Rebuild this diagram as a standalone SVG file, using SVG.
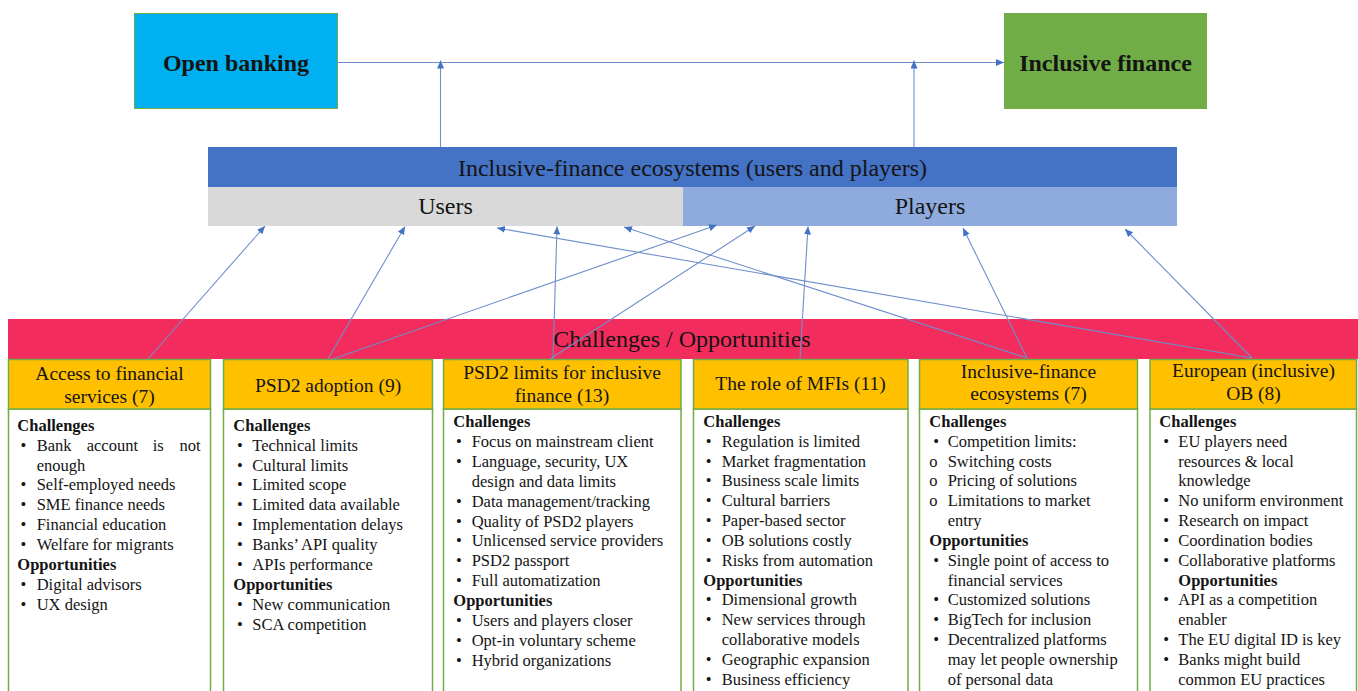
<svg xmlns="http://www.w3.org/2000/svg" width="1358" height="691" viewBox="0 0 1358 691" font-family="'Liberation Serif', 'DejaVu Serif', serif">
<defs>
<style>
text{font-family:'Liberation Serif','DejaVu Serif',serif;fill:#141414}
.big{font-size:24px}
.bold{font-weight:bold}
.hd{font-size:19.5px;text-anchor:middle}
.t{font-size:16.5px}
.hdbox{fill:#FFC000;stroke:#70AD47;stroke-width:1.5}
.cbox{fill:#FFFFFF;stroke:#70AD47;stroke-width:1.5}
.con{fill:none;stroke:#6F8FCB;stroke-width:1.1;marker-end:url(#ah)}
</style>
<marker id="ah" markerUnits="userSpaceOnUse" markerWidth="9" markerHeight="8" refX="8" refY="3.5" orient="auto">
<path d="M0,0 L8,3.5 L0,7 z" fill="#4472C4"/>
</marker>
</defs>
<rect width="1358" height="691" fill="#FFFFFF"/>

<g id="open-banking">
<rect x="134.5" y="13.5" width="203" height="95" fill="#00B0F0" stroke="#70AD47" stroke-width="1"/>
<text x="236" y="71" class="big bold" text-anchor="middle">Open banking</text>
</g>
<g id="inclusive-finance">
<rect x="1004" y="13" width="203" height="96" fill="#70AD47"/>
<text x="1105.5" y="71" class="big bold" text-anchor="middle">Inclusive finance</text>
</g>

<g id="ecosystems">
<rect x="208" y="147" width="969" height="40" fill="#4472C4"/>
<text x="692.5" y="176" class="big" text-anchor="middle">Inclusive-finance ecosystems (users and players)</text>
</g>
<g id="users">
<rect x="208" y="187" width="475" height="39" fill="#D9D9D9"/>
<text x="445.5" y="214" class="big" text-anchor="middle">Users</text>
</g>
<g id="players">
<rect x="683" y="187" width="494" height="39" fill="#8FAADC"/>
<text x="930" y="214" class="big" text-anchor="middle">Players</text>
</g>

<g id="challenges-bar">
<rect x="8" y="319" width="1350" height="40" fill="#F22C5C"/>
<text x="682" y="347" class="big" text-anchor="middle">Challenges / Opportunities</text>
</g>

<g id="col-access">
<rect class="cbox" x="8.5" y="409" width="202" height="290"/>
<rect class="hdbox" x="8.5" y="359.5" width="202" height="49.5"/>
<text class="hd" x="109.5" y="380">Access to financial</text>
<text class="hd" x="109.5" y="403">services (7)</text>
<text class="t bold" x="17.3" y="431">Challenges</text>
<text class="t" x="20.5" y="451">•</text><text class="t" y="451"><tspan x="36.7">Bank</tspan><tspan x="86.7">account</tspan><tspan x="152.7">is</tspan><tspan x="179.5">not</tspan></text>
<text class="t" x="36.7" y="471">enough</text>
<text class="t" x="20.5" y="490">•</text><text class="t" x="36.7" y="490">Self-employed needs</text>
<text class="t" x="20.5" y="510">•</text><text class="t" x="36.7" y="510">SME finance needs</text>
<text class="t" x="20.5" y="530">•</text><text class="t" x="36.7" y="530">Financial education</text>
<text class="t" x="20.5" y="550">•</text><text class="t" x="36.7" y="550">Welfare for migrants</text>
<text class="t bold" x="17.3" y="570">Opportunities</text>
<text class="t" x="20.5" y="589.5">•</text><text class="t" x="36.7" y="589.5">Digital advisors</text>
<text class="t" x="20.5" y="609.5">•</text><text class="t" x="36.7" y="609.5">UX design</text>
</g>

<g id="col-psd2-adoption">
<rect class="cbox" x="223.5" y="409" width="209" height="290"/>
<rect class="hdbox" x="223.5" y="359.5" width="209" height="49.5"/>
<text class="hd" x="328" y="392">PSD2 adoption (9)</text>
<text class="t bold" x="233.3" y="431">Challenges</text>
<text class="t" x="237" y="450.5">•</text><text class="t" x="252.3" y="450.5">Technical limits</text>
<text class="t" x="237" y="470.5">•</text><text class="t" x="252.3" y="470.5">Cultural limits</text>
<text class="t" x="237" y="490">•</text><text class="t" x="252.3" y="490">Limited scope</text>
<text class="t" x="237" y="510">•</text><text class="t" x="252.3" y="510">Limited data available</text>
<text class="t" x="237" y="530">•</text><text class="t" x="252.3" y="530">Implementation delays</text>
<text class="t" x="237" y="550">•</text><text class="t" x="252.3" y="550">Banks’ API quality</text>
<text class="t" x="237" y="570">•</text><text class="t" x="252.3" y="570">APIs performance</text>
<text class="t bold" x="233.3" y="589.5">Opportunities</text>
<text class="t" x="237" y="609.5">•</text><text class="t" x="252.3" y="609.5">New communication</text>
<text class="t" x="237" y="629.5">•</text><text class="t" x="252.3" y="629.5">SCA competition</text>
</g>

<g id="col-psd2-limits">
<rect class="cbox" x="443.5" y="409" width="237.5" height="290"/>
<rect class="hdbox" x="443.5" y="359.5" width="237.5" height="49.5"/>
<text class="hd" x="562" y="379">PSD2 limits for inclusive</text>
<text class="hd" x="562" y="402">finance (13)</text>
<text class="t bold" x="453.3" y="427">Challenges</text>
<text class="t" x="456" y="447">•</text><text class="t" x="471.7" y="447">Focus on mainstream client</text>
<text class="t" x="456" y="467">•</text><text class="t" x="471.7" y="467">Language, security, UX</text>
<text class="t" x="471.7" y="486.5">design and data limits</text>
<text class="t" x="456" y="506.5">•</text><text class="t" x="471.7" y="506.5">Data management/tracking</text>
<text class="t" x="456" y="526.5">•</text><text class="t" x="471.7" y="526.5">Quality of PSD2 players</text>
<text class="t" x="456" y="546">•</text><text class="t" x="471.7" y="546">Unlicensed service providers</text>
<text class="t" x="456" y="566">•</text><text class="t" x="471.7" y="566">PSD2 passport</text>
<text class="t" x="456" y="586">•</text><text class="t" x="471.7" y="586">Full automatization</text>
<text class="t bold" x="453.3" y="605.5">Opportunities</text>
<text class="t" x="456" y="625.5">•</text><text class="t" x="471.7" y="625.5">Users and players closer</text>
<text class="t" x="456" y="645.5">•</text><text class="t" x="471.7" y="645.5">Opt-in voluntary scheme</text>
<text class="t" x="456" y="665.5">•</text><text class="t" x="471.7" y="665.5">Hybrid organizations</text>
</g>

<g id="col-mfis">
<rect class="cbox" x="693.5" y="409" width="214.5" height="290"/>
<rect class="hdbox" x="693.5" y="359.5" width="214.5" height="49.5"/>
<text class="hd" x="800.5" y="390">The role of MFIs (11)</text>
<text class="t bold" x="703.3" y="427">Challenges</text>
<text class="t" x="705.7" y="446.5">•</text><text class="t" x="721.7" y="446.5">Regulation is limited</text>
<text class="t" x="705.7" y="466.5">•</text><text class="t" x="721.7" y="466.5">Market fragmentation</text>
<text class="t" x="705.7" y="486">•</text><text class="t" x="721.7" y="486">Business scale limits</text>
<text class="t" x="705.7" y="506">•</text><text class="t" x="721.7" y="506">Cultural barriers</text>
<text class="t" x="705.7" y="526">•</text><text class="t" x="721.7" y="526">Paper-based sector</text>
<text class="t" x="705.7" y="546">•</text><text class="t" x="721.7" y="546">OB solutions costly</text>
<text class="t" x="705.7" y="565.5">•</text><text class="t" x="721.7" y="565.5">Risks from automation</text>
<text class="t bold" x="703.3" y="585.5">Opportunities</text>
<text class="t" x="705.7" y="605">•</text><text class="t" x="721.7" y="605">Dimensional growth</text>
<text class="t" x="705.7" y="625">•</text><text class="t" x="721.7" y="625">New services through</text>
<text class="t" x="721.7" y="645">collaborative models</text>
<text class="t" x="705.7" y="665">•</text><text class="t" x="721.7" y="665">Geographic expansion</text>
<text class="t" x="705.7" y="684.5">•</text><text class="t" x="721.7" y="684.5">Business efficiency</text>
</g>

<g id="col-ecosystems">
<rect class="cbox" x="919.5" y="409" width="218" height="290"/>
<rect class="hdbox" x="919.5" y="359.5" width="218" height="49.5"/>
<text class="hd" x="1028.5" y="378">Inclusive-finance</text>
<text class="hd" x="1028.5" y="400">ecosystems (7)</text>
<text class="t bold" x="929.3" y="427">Challenges</text>
<text class="t" x="933.3" y="446.5">•</text><text class="t" x="947.7" y="446.5">Competition limits:</text>
<text class="t" x="929.3" y="466.5">o</text><text class="t" x="947.7" y="466.5">Switching costs</text>
<text class="t" x="929.3" y="486">o</text><text class="t" x="947.7" y="486">Pricing of solutions</text>
<text class="t" x="929.3" y="506">o</text><text class="t" x="947.7" y="506">Limitations to market</text>
<text class="t" x="947.7" y="526">entry</text>
<text class="t bold" x="929.3" y="546">Opportunities</text>
<text class="t" x="933.3" y="565.5">•</text><text class="t" x="947.7" y="565.5">Single point of access to</text>
<text class="t" x="947.7" y="585.5">financial services</text>
<text class="t" x="933.3" y="605">•</text><text class="t" x="947.7" y="605">Customized solutions</text>
<text class="t" x="933.3" y="625">•</text><text class="t" x="947.7" y="625">BigTech for inclusion</text>
<text class="t" x="933.3" y="645">•</text><text class="t" x="947.7" y="645">Decentralized platforms</text>
<text class="t" x="947.7" y="665">may let people ownership</text>
<text class="t" x="947.7" y="684.5">of personal data</text>
</g>

<g id="col-european">
<rect class="cbox" x="1150" y="409" width="206.5" height="290"/>
<rect class="hdbox" x="1150" y="359.5" width="206.5" height="49.5"/>
<text class="hd" x="1253.5" y="377">European (inclusive)</text>
<text class="hd" x="1253.5" y="400">OB (8)</text>
<text class="t bold" x="1159.3" y="427">Challenges</text>
<text class="t" x="1163.3" y="446.5">•</text><text class="t" x="1178.3" y="446.5">EU players need</text>
<text class="t" x="1178.3" y="466.5">resources &amp; local</text>
<text class="t" x="1178.3" y="486">knowledge</text>
<text class="t" x="1163.3" y="506">•</text><text class="t" x="1178.3" y="506">No uniform environment</text>
<text class="t" x="1163.3" y="526">•</text><text class="t" x="1178.3" y="526">Research on impact</text>
<text class="t" x="1163.3" y="546">•</text><text class="t" x="1178.3" y="546">Coordination bodies</text>
<text class="t" x="1163.3" y="565.5">•</text><text class="t" x="1178.3" y="565.5">Collaborative platforms</text>
<text class="t bold" x="1178.3" y="585.5">Opportunities</text>
<text class="t" x="1163.3" y="605">•</text><text class="t" x="1178.3" y="605">API as a competition</text>
<text class="t" x="1178.3" y="625">enabler</text>
<text class="t" x="1163.3" y="645">•</text><text class="t" x="1178.3" y="645">The EU digital ID is key</text>
<text class="t" x="1163.3" y="665">•</text><text class="t" x="1178.3" y="665">Banks might build</text>
<text class="t" x="1178.3" y="684.5">common EU practices</text>
</g>

<g id="connectors">
<line class="con" x1="337.5" y1="62.5" x2="1004" y2="62.5"/>
<line class="con" x1="440.5" y1="147" x2="440.5" y2="60.5"/>
<line class="con" x1="914" y1="147" x2="914" y2="60.5"/>
<line class="con" x1="148" y1="359" x2="265" y2="226"/>
<line class="con" x1="328" y1="359" x2="405" y2="226.5"/>
<line class="con" x1="333" y1="359" x2="717" y2="225"/>
<line class="con" x1="553" y1="359" x2="557" y2="226.5"/>
<line class="con" x1="550" y1="359" x2="755" y2="226"/>
<line class="con" x1="800" y1="359" x2="808" y2="226.5"/>
<line class="con" x1="1027" y1="358" x2="624" y2="227"/>
<line class="con" x1="1027" y1="358" x2="963" y2="228"/>
<line class="con" x1="1252" y1="358" x2="1125" y2="229"/>
<line class="con" x1="1252" y1="358" x2="497" y2="228"/>
</g>
</svg>
